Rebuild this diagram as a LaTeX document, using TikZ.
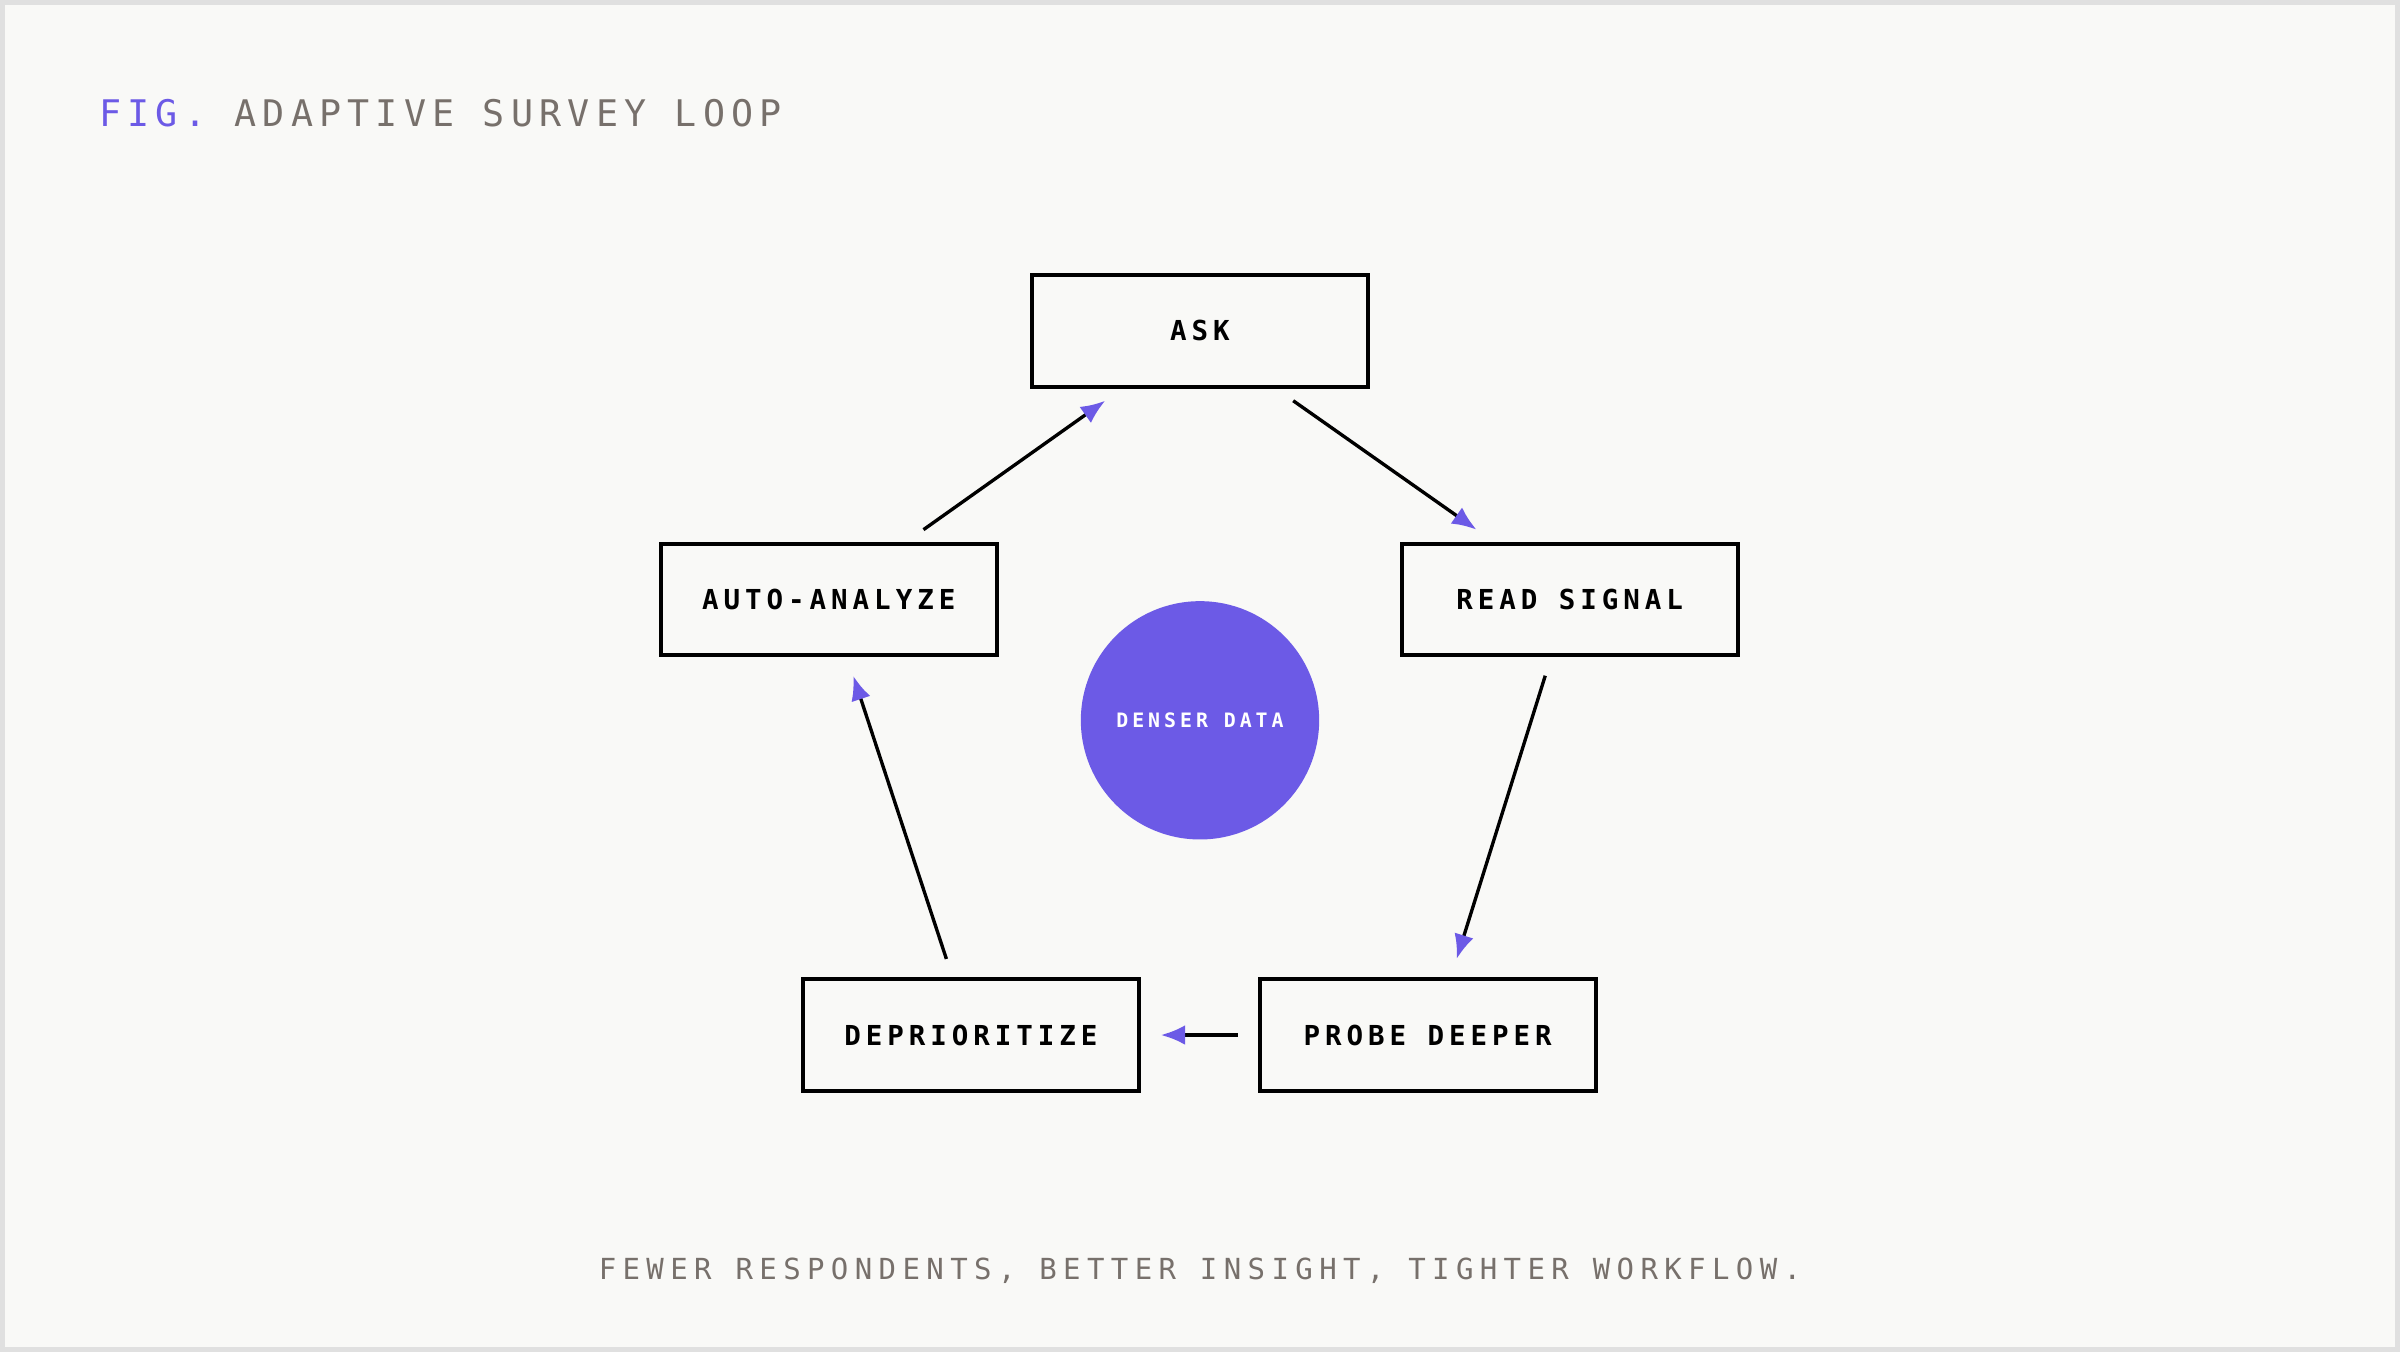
\documentclass[tikz,border=0pt]{standalone}
\usepackage{fontspec}
\usetikzlibrary{arrows.meta}
\newfontfamily\monob[LetterSpace=18]{DejaVu Sans Mono Bold}
\newfontfamily\monot[LetterSpace=17]{DejaVu Sans Mono}
\newfontfamily\monoc[LetterSpace=22]{DejaVu Sans Mono}
\newfontfamily\monod[LetterSpace=20]{DejaVu Sans Mono Bold}
\definecolor{accent}{HTML}{6C5AE6}
\definecolor{greytext}{HTML}{77706B}
\definecolor{paper}{HTML}{F9F9F7}
\definecolor{frame}{HTML}{E0E0E0}
\tikzset{
  stage/.style={draw=black, line width=1.3pt, minimum width=110pt, minimum height=36.5pt, inner sep=0pt, font=\fontsize{9}{10}\monob},
  flow/.style={line width=1.1pt, -{Latex[length=8pt,width=6.5pt,color=accent,fill=accent]}}
}
\begin{document}
\begin{tikzpicture}[x=0.5pt,y=-0.5pt]
%background
\draw [fill=paper, draw=frame, line width=1.5pt] (0,0) rectangle (1568,882);
\useasboundingbox (0,0) rectangle (1568,882);

%title
\node (title) [anchor=base west, inner sep=0pt, font=\fontsize{12}{14}\monot] at (63,81) {\textcolor{accent}{FIG.} \textcolor{greytext}{ADAPTIVE SURVEY LOOP}};

%stages
\node (ask) [stage] at (784,215) {ASK};
\node (auto) [stage] at (541,391) {AUTO-ANALYZE};
\node (read) [stage] at (1026,391) {READ SIGNAL};
\node (depri) [stage] at (634,676) {DEPRIORITIZE};
\node (probe) [stage] at (933,676) {PROBE DEEPER};

%centre
\node (dense) [circle, fill=accent, minimum size=78pt, inner sep=0pt, text=white, font=\fontsize{6.5}{7}\monod] at (784,470) {DENSER DATA};

%connectors
\draw [flow] ([shift={(61,8)}]ask.south) -- ([shift={(-61,-8)}]read.north);
\draw [flow] ([shift={(-16,12)}]read.south) -- ([shift={(19,-12)}]probe.north);
\draw [flow] ([shift={(-13,0)}]probe.west) -- ([shift={(13,0)}]depri.east);
\draw [flow] ([shift={(-16,-12)}]depri.north) -- ([shift={(16,12)}]auto.south);
\draw [flow] ([shift={(62,-8)}]auto.north) -- ([shift={(-62,8)}]ask.south);

%caption
\node (caption) [anchor=base, inner sep=0pt, text=greytext, font=\fontsize{9.5}{11}\monoc] at (784,836) {FEWER RESPONDENTS, BETTER INSIGHT, TIGHTER WORKFLOW.};
\end{tikzpicture}
\end{document}
